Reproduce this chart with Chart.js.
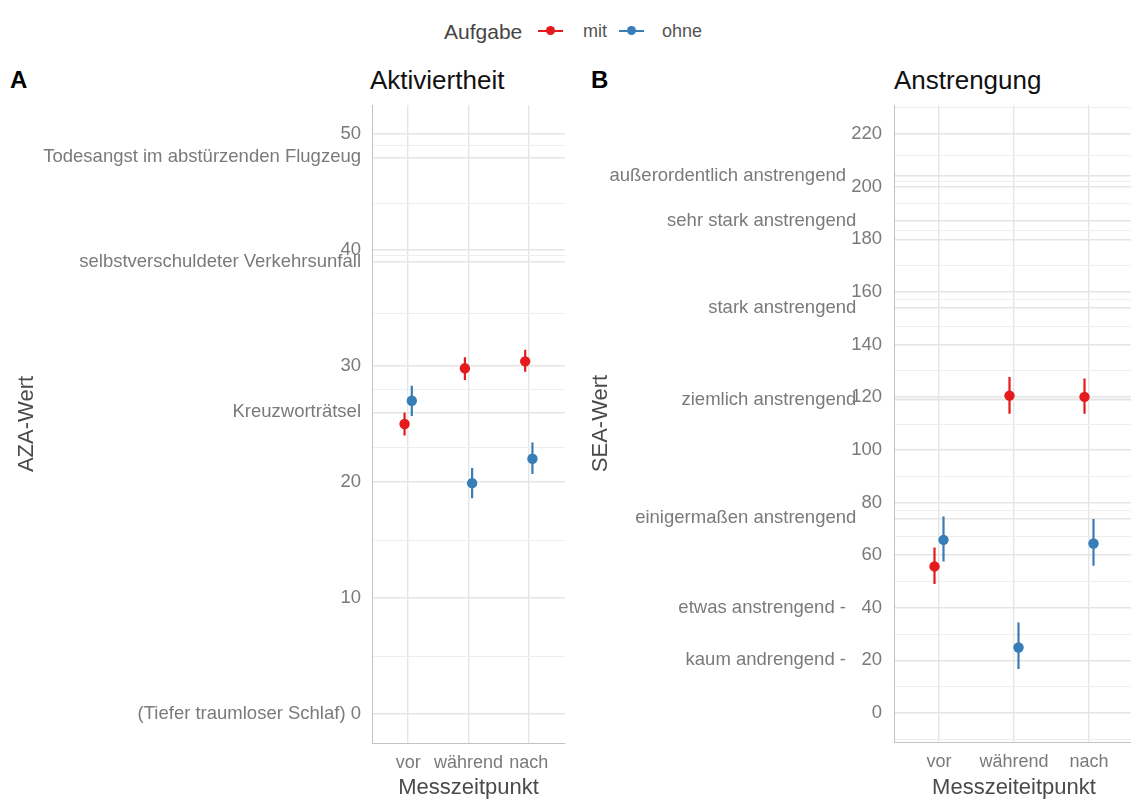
<!DOCTYPE html>
<html>
<head>
<meta charset="utf-8">
<script src="https://cdn.jsdelivr.net/npm/chart.js@4.4.1/dist/chart.umd.min.js"></script>
<style>
  html, body { margin: 0; padding: 0; background: #fff; overflow: hidden; width: 1131px; height: 801px; }
  body { position: relative; font-family: "Liberation Sans", Arial, sans-serif; }
  .txt { position: absolute; white-space: nowrap; line-height: 1; transform: translateY(-50%); }
  .tag { font-weight: bold; font-size: 24px; color: #000; }
  .ptitle { font-size: 26px; color: #111; }
  .lgline { position: absolute; height: 2px; }
  .lgdot { position: absolute; width: 9px; height: 9px; border-radius: 50%; }
  #wrapA { position: absolute; left: 0; top: 0; width: 580px; height: 801px; }
  #wrapB { position: absolute; left: 580px; top: 0; width: 560px; height: 801px; }
</style>
</head>
<body>

<!-- legend -->
<span class="txt" style="left:444px; top:31px; font-size:21px; color:#444;">Aufgabe</span>
<div class="lgline" style="left:538px; top:30px; width:25px; background:#E41A1C;"></div>
<div class="lgdot" style="left:546px; top:26px; background:#E41A1C;"></div>
<span class="txt" style="left:583px; top:31px; font-size:18px; color:#555;">mit</span>
<div class="lgline" style="left:619px; top:30px; width:25px; background:#377EB8;"></div>
<div class="lgdot" style="left:627px; top:26px; background:#377EB8;"></div>
<span class="txt" style="left:662px; top:31px; font-size:18px; color:#555;">ohne</span>

<!-- panel tags and titles -->
<span class="txt tag" style="left:10px; top:80px;">A</span>
<span class="txt ptitle" style="left:370px; top:80px;">Aktiviertheit</span>
<span class="txt tag" style="left:591px; top:80px;">B</span>
<span class="txt ptitle" style="left:894px; top:80px;">Anstrengung</span>

<div id="wrapA"><canvas id="chartA" width="580" height="801"></canvas></div>
<div id="wrapB"><canvas id="chartB" width="560" height="801"></canvas></div>

<script>
// Measurement times
const categories = ['vor', 'während', 'nach'];

// AZA (Aktiviertheit): means and interval bounds per group
const azaMit      = [25.0, 29.8, 30.4];
const azaMitLow   = [24.0, 28.8, 29.5];
const azaMitHigh  = [26.0, 30.75, 31.4];
const azaOhne     = [27.0, 19.9, 22.0];
const azaOhneLow  = [25.7, 18.6, 20.7];
const azaOhneHigh = [28.3, 21.2, 23.4];

// SEA (Anstrengung): means and interval bounds per group
const seaMit      = [55.7, 120.6, 120.1];
const seaMitLow   = [49.0, 113.7, 113.7];
const seaMitHigh  = [62.9, 127.7, 127.1];
const seaOhne     = [65.8, 24.9, 64.4];
const seaOhneLow  = [57.6, 16.7, 56.0];
const seaOhneHigh = [74.7, 34.4, 73.7];

// Y-axis breaks with their anchor labels
const azaBreaks = [0, 10, 20, 26, 30, 39, 40, 48, 50];
const azaLabels = ['(Tiefer traumloser Schlaf) 0', '10', '20', 'Kreuzworträtsel', '30',
                   'selbstverschuldeter Verkehrsunfall', '40', 'Todesangst im abstürzenden Flugzeug', '50'];

const seaBreaks = [0, 20, 40, 60, 74, 80, 100, 119, 120, 140, 154, 160, 180, 187, 200, 204, 220];
const seaLabels = ['0', 'kaum andrengend -   20', 'etwas anstrengend -   40', '60', 'einigermaßen anstrengend',
                   '80', '100', 'ziemlich anstrengend', '120', '140', 'stark anstrengend', '160', '180',
                   'sehr stark anstrengend', '200', 'außerordentlich anstrengend', '220'];

const groupNames = ['mit', 'ohne'];
const groupColors = ['#E41A1C', '#377EB8'];

const FONT = '"Liberation Sans", Arial, sans-serif';
const TICK_COLOR = '#7a7a7a';
const AXIS_TITLE_COLOR = '#4a4a4a';
const GRID_MAJOR = '#e5e5e5';
const GRID_MINOR = '#eeeeee';
const DODGE = 0.06;

// word anchors sit a little left of the numeric labels
function padLabel(text) {
  if (/^[0-9]+$/.test(text) || /- /.test(text) || text.startsWith('(')) return text;
  return text + (text.startsWith('außer') ? '       ' : '     ');
}

// major ticks at the breaks, minor ticks halfway between neighbours (and beyond the ends)
function buildYTicks(breaks, labels, min, max, pad) {
  const ticks = breaks.map((v, i) => ({ value: v, text: pad ? padLabel(labels[i]) : labels[i], minor: false }));
  const step = breaks[1] - breaks[0];
  const ext = [breaks[0] - step, ...breaks, breaks[breaks.length - 1] + step];
  for (let i = 0; i < ext.length - 1; i++) {
    const m = (ext[i] + ext[i + 1]) / 2;
    if (m > min && m < max) ticks.push({ value: m, text: '', minor: true });
  }
  ticks.sort((a, b) => a.value - b.value);
  return ticks;
}

function pointData(values, shift) {
  return values.map((v, i) => ({ x: i + shift, y: v }));
}

function barData(low, high, shift) {
  const out = [];
  low.forEach((lo, i) => {
    out.push({ x: i + shift, y: lo }, { x: i + shift, y: high[i] }, { x: i + shift, y: null });
  });
  return out;
}

function makeDatasets(series) {
  const ds = [];
  series.forEach((s, g) => {
    const shift = g === 0 ? -DODGE : DODGE;
    ds.push({
      label: groupNames[g],
      data: pointData(s.mean, shift),
      backgroundColor: groupColors[g],
      borderColor: groupColors[g],
      pointRadius: 5.2,
      pointBorderWidth: 0,
      showLine: false,
      order: 0
    });
    ds.push({
      label: groupNames[g] + ' range',
      data: barData(s.low, s.high, shift),
      borderColor: groupColors[g],
      borderWidth: 2.2,
      pointRadius: 0,
      showLine: true,
      spanGaps: false,
      order: 1
    });
  });
  return ds;
}

function makeChart(canvasId, cfg) {
  return new Chart(document.getElementById(canvasId), {
    type: 'scatter',
    data: { datasets: makeDatasets(cfg.series) },
    options: {
      responsive: false,
      animation: false,
      devicePixelRatio: 1,
      layout: { padding: cfg.padding },
      plugins: { legend: { display: false }, tooltip: { enabled: false }, title: { display: false } },
      scales: {
        x: {
          type: 'linear',
          min: -0.6, max: 2.6,
          bounds: 'data',
          afterBuildTicks: s => { s.ticks = categories.map((c, i) => ({ value: i, text: c })); },
          afterFit: s => { s.height = cfg.xHeight; },
          grid: { color: GRID_MAJOR, lineWidth: 1.4, drawTicks: false },
          border: { display: true, color: '#c2c2c2', width: 1 },
          ticks: {
            autoSkip: false, maxRotation: 0, padding: 9, color: TICK_COLOR,
            font: { family: FONT, size: 18 },
            callback: (v, i, t) => t[i].text
          },
          title: {
            display: true, text: cfg.xTitle, color: AXIS_TITLE_COLOR,
            font: { family: FONT, size: 22 }, padding: { top: 4, bottom: 0 }
          }
        },
        y: {
          type: 'linear',
          min: cfg.yMin, max: cfg.yMax,
          bounds: 'data',
          afterBuildTicks: s => { s.ticks = buildYTicks(cfg.breaks, cfg.labels, cfg.yMin, cfg.yMax, cfg.pad); },
          afterFit: s => { s.width = cfg.yWidth; },
          grid: {
            color: c => (c.tick && c.tick.minor) ? GRID_MINOR : GRID_MAJOR,
            lineWidth: c => (c.tick && c.tick.minor) ? 1 : 1.4,
            drawTicks: false
          },
          border: { display: true, color: '#c2c2c2', width: 1 },
          ticks: {
            autoSkip: false, padding: cfg.tickPad, color: TICK_COLOR,
            font: { family: FONT, size: 18.5 },
            callback: (v, i, t) => t[i].text
          },
          title: {
            display: true, text: cfg.yTitle, color: AXIS_TITLE_COLOR,
            font: { family: FONT, size: 22 }, padding: { top: 4, bottom: 4 }
          }
        }
      }
    }
  });
}

makeChart('chartA', {
  series: [
    { mean: azaMit, low: azaMitLow, high: azaMitHigh },
    { mean: azaOhne, low: azaOhneLow, high: azaOhneHigh }
  ],
  breaks: azaBreaks, labels: azaLabels, pad: false,
  yMin: -2.5, yMax: 52.5,
  yTitle: 'AZA-Wert', xTitle: 'Messzeitpunkt',
  padding: { left: 10, right: 15, top: 105, bottom: 0 },
  yWidth: 362, xHeight: 58, tickPad: 11
});

makeChart('chartB', {
  series: [
    { mean: seaMit, low: seaMitLow, high: seaMitHigh },
    { mean: seaOhne, low: seaOhneLow, high: seaOhneHigh }
  ],
  breaks: seaBreaks, labels: seaLabels, pad: true,
  yMin: -11, yMax: 231,
  yTitle: 'SEA-Wert', xTitle: 'Messzeiteitpunkt',
  padding: { left: 4, right: 6, top: 105, bottom: 0 },
  yWidth: 310, xHeight: 59, tickPad: 12
});
</script>
</body>
</html>
